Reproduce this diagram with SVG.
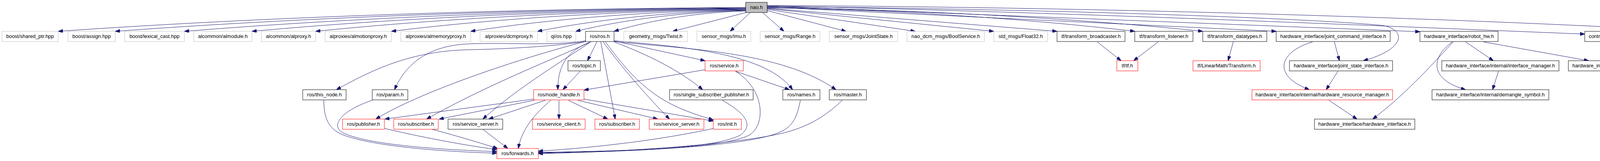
<svg xmlns="http://www.w3.org/2000/svg" width="4831" height="411" viewBox="0 0 4831 411">
<style>
rect{fill:#fff;stroke-width:1}
.g rect{stroke:#bfbfbf}
.b rect{stroke:#000}
.r rect{stroke:#ff0000}
.root rect{fill:#bfbfbf;stroke:#000}
text{font-family:"Liberation Sans",Arial,sans-serif;font-size:13px;text-anchor:middle;fill:#000}
#edges path{fill:none;stroke:#191970;stroke-width:1;marker-end:url(#a)}
</style>
<defs>
<marker id="a" viewBox="0 0 10 7" refX="10" refY="3.5" markerWidth="12" markerHeight="8.4" markerUnits="userSpaceOnUse" orient="auto">
<path d="M0,0 L10,3.5 L0,7 z" fill="#191970" stroke="#191970"/>
</marker>
</defs>
<rect x="0" y="0" width="4831" height="411" style="fill:#fff;stroke:none"/>
<g id="edges">
<path d="M1909,19 C1328,22 677,43 149,80"/>
<path d="M1909,20 C1376,23 779,44 295,80"/>
<path d="M1909,21 C1435,24 903,45 472,80"/>
<path d="M1909,22 C1492,25 1024,45 645,80"/>
<path d="M1909,23 C1546,26 1138,46 808,80"/>
<path d="M1909,24 C1610,27 1274,46 1002,80"/>
<path d="M1909,25 C1677,28 1416,47 1205,80"/>
<path d="M1909,26 C1733,29 1536,48 1376,80"/>
<path d="M1909,27 C1765,30 1604,48 1474,80"/>
<path d="M1909,28 C1798,31 1673,49 1572,80"/>
<path d="M1914,31 L1722,80"/>
<path d="M1922,31 L1869,80"/>
<path d="M1951,31 L2007,80"/>
<path d="M1964,27 L2166,80"/>
<path d="M1964,24 L2343,80"/>
<path d="M1964,22 L2544,80"/>
<path d="M1964,21 L2706,80"/>
<path d="M1964,20 C2300,25 2650,50 2905,80"/>
<path d="M1964,19 C2350,24 2800,50 3079,80"/>
<path d="M1964,18 L3267,80"/>
<path d="M1964,17 C2500,20 3300,42 3540,65 C3600,76 3600,125 3490,155"/>
<path d="M1964,16 L3635,81"/>
<path d="M1964,15 C2700,30 3500,65 4057,87"/>
<path d="M1964,14 C2800,18 3700,45 4339,80"/>
<path d="M1528,107 L1504,155"/>
<path d="M1512,107 C1450,130 1428,170 1428,229"/>
<path d="M1499,106 C1420,118 1300,125 1200,127 C1050,130 950,180 861,229"/>
<path d="M1499,104 C1420,118 1300,108 1200,112 C1100,116 1040,160 1010,229"/>
<path d="M1499,106 C1400,130 1100,220 962,304"/>
<path d="M1512,107 C1420,150 1250,215 1092,304"/>
<path d="M1512,107 C1450,150 1330,220 1236,304"/>
<path d="M1538,107 L1575,304"/>
<path d="M1544,107 C1590,170 1660,250 1714,304"/>
<path d="M1550,107 C1640,230 1700,270 1826,306"/>
<path d="M1572,107 C1660,140 1740,180 1799,229"/>
<path d="M1574,105 L1805,155"/>
<path d="M1572,104 C1750,120 1960,135 2029,229"/>
<path d="M1572,106 C1750,125 2000,130 2140,229"/>
<path d="M1366,253 L985,304"/>
<path d="M1368,256 L1124,304"/>
<path d="M1396,256 L1251,304"/>
<path d="M1431,256 L1431,304"/>
<path d="M1455,256 L1556,304"/>
<path d="M1479,256 L1684,304"/>
<path d="M1495,253 L1826,309"/>
<path d="M1410,256 C1370,290 1335,330 1327,379"/>
<path d="M1485,182 L1441,229"/>
<path d="M1805,178 L1495,230"/>
<path d="M1883,182 L2021,229"/>
<path d="M1883,182 C1960,230 1960,320 1918,345 C1850,380 1600,385 1378,389"/>
<path d="M1849,256 C1910,290 1930,320 1895,345 C1830,380 1600,386 1378,390"/>
<path d="M2049,256 C2040,300 2030,325 1990,340 C1900,375 1600,388 1378,391"/>
<path d="M2156,256 C2110,300 2060,330 1980,345 C1850,370 1600,388 1378,392"/>
<path d="M1826,328 C1700,355 1550,375 1378,386"/>
<path d="M829,256 C829,300 840,330 880,345 C960,375 1150,388 1272,391"/>
<path d="M953,256 C880,280 840,320 880,340 C950,372 1150,383 1272,387"/>
<path d="M985,328 C1100,355 1200,372 1272,382"/>
<path d="M1106,330 C1180,350 1230,365 1274,379"/>
<path d="M1236,330 L1300,379"/>
<path d="M2809,107 L2870,155"/>
<path d="M2965,107 L2902,155"/>
<path d="M3157,107 L3144,155"/>
<path d="M3416,107 L3429,155"/>
<path d="M3360,107 C3280,130 3250,190 3352,229"/>
<path d="M3425,182 L3395,229"/>
<path d="M3402,256 L3474,304"/>
<path d="M3720,107 C3680,150 3600,240 3514,304"/>
<path d="M3752,107 L3823,155"/>
<path d="M3798,107 L4067,155"/>
<path d="M3718,107 C3670,140 3650,200 3752,229"/>
<path d="M3836,182 L3821,229"/>
<path d="M4219,107 L4353,155"/>
<path d="M4264,107 L4597,155"/>
</g>
<g id="nao_h" class="root"><rect x="1909" y="6" width="55" height="26"/><text x="1936.5" y="23">nao.h</text></g>
<g id="boost_shared_ptr" class="g"><rect x="5" y="80" width="144" height="26"/><text x="77" y="97">boost/shared_ptr.hpp</text></g>
<g id="boost_assign" class="g"><rect x="174" y="80" width="121" height="26"/><text x="234.5" y="97">boost/assign.hpp</text></g>
<g id="boost_lexical_cast" class="g"><rect x="319" y="80" width="153" height="26"/><text x="395.5" y="97">boost/lexical_cast.hpp</text></g>
<g id="alcommon_almodule" class="g"><rect x="496" y="80" width="149" height="26"/><text x="570.5" y="97">alcommon/almodule.h</text></g>
<g id="alcommon_alproxy" class="g"><rect x="669" y="80" width="139" height="26"/><text x="738.5" y="97">alcommon/alproxy.h</text></g>
<g id="alproxies_almotionproxy" class="g"><rect x="832" y="80" width="170" height="26"/><text x="917" y="97">alproxies/almotionproxy.h</text></g>
<g id="alproxies_almemoryproxy" class="g"><rect x="1026" y="80" width="179" height="26"/><text x="1115.5" y="97">alproxies/almemoryproxy.h</text></g>
<g id="alproxies_dcmproxy" class="g"><rect x="1229" y="80" width="147" height="26"/><text x="1302.5" y="97">alproxies/dcmproxy.h</text></g>
<g id="qi_os" class="g"><rect x="1400" y="80" width="74" height="26"/><text x="1437" y="97">qi/os.hpp</text></g>
<g id="ros_ros" class="b"><rect x="1499" y="80" width="73" height="26"/><text x="1535.5" y="97">ros/ros.h</text></g>
<g id="geometry_msgs_twist" class="g"><rect x="1597" y="80" width="163" height="26"/><text x="1678.5" y="97">geometry_msgs/Twist.h</text></g>
<g id="sensor_msgs_imu" class="g"><rect x="1784" y="80" width="138" height="26"/><text x="1853" y="97">sensor_msgs/Imu.h</text></g>
<g id="sensor_msgs_range" class="g"><rect x="1946" y="80" width="153" height="26"/><text x="2022.5" y="97">sensor_msgs/Range.h</text></g>
<g id="sensor_msgs_jointstate" class="g"><rect x="2123" y="80" width="175" height="26"/><text x="2210.5" y="97">sensor_msgs/JointState.h</text></g>
<g id="nao_dcm_msgs_boolservice" class="g"><rect x="2322" y="80" width="198" height="26"/><text x="2421" y="97">nao_dcm_msgs/BoolService.h</text></g>
<g id="std_msgs_float32" class="g"><rect x="2544" y="80" width="138" height="26"/><text x="2613" y="97">std_msgs/Float32.h</text></g>
<g id="tf_transform_broadcaster" class="b"><rect x="2706" y="80" width="174" height="26"/><text x="2793" y="97">tf/transform_broadcaster.h</text></g>
<g id="tf_transform_listener" class="b"><rect x="2905" y="80" width="149" height="26"/><text x="2979.5" y="97">tf/transform_listener.h</text></g>
<g id="tf_transform_datatypes" class="b"><rect x="3079" y="80" width="164" height="26"/><text x="3161" y="97">tf/transform_datatypes.h</text></g>
<g id="hw_joint_command_interface" class="b"><rect x="3267" y="80" width="292" height="26"/><text x="3413" y="97">hardware_interface/joint_command_interface.h</text></g>
<g id="hw_robot_hw" class="b"><rect x="3635" y="80" width="200" height="26"/><text x="3735" y="97">hardware_interface/robot_hw.h</text></g>
<g id="cm_controller_manager" class="b"><rect x="4057" y="80" width="258" height="26"/><text x="4186" y="97">controller_manager/controller_manager.h</text></g>
<g id="diagnostic_updater" class="g"><rect x="4339" y="80" width="255" height="26"/><text x="4466.5" y="97">diagnostic_updater/diagnostic_updater.h</text></g>
<g id="ros_topic" class="b"><rect x="1454" y="155" width="83" height="26"/><text x="1495.5" y="172">ros/topic.h</text></g>
<g id="ros_service" class="r"><rect x="1805" y="155" width="98" height="26"/><text x="1854" y="172">ros/service.h</text></g>
<g id="tf_tf" class="r"><rect x="2859" y="155" width="54" height="26"/><text x="2886" y="172">tf/tf.h</text></g>
<g id="tf_linearmath_transform" class="r"><rect x="3054" y="155" width="172" height="26"/><text x="3140" y="172">tf/LinearMath/Transform.h</text></g>
<g id="hw_joint_state_interface" class="b"><rect x="3301" y="155" width="264" height="26"/><text x="3433" y="172">hardware_interface/joint_state_interface.h</text></g>
<g id="hw_interface_manager" class="b"><rect x="3691" y="155" width="300" height="26"/><text x="3841" y="172">hardware_interface/internal/interface_manager.h</text></g>
<g id="hw_controller_info" class="b"><rect x="4015" y="155" width="228" height="26"/><text x="4129" y="172">hardware_interface/controller_info.h</text></g>
<g id="cm_controller_spec" class="b"><rect x="4268" y="155" width="234" height="26"/><text x="4385" y="172">controller_manager/controller_spec.h</text></g>
<g id="cm_controller_loader_interface" class="b"><rect x="4526" y="155" width="299" height="26"/><text x="4675.5" y="172">controller_manager/controller_loader_interface.h</text></g>
<g id="ros_this_node" class="b"><rect x="775" y="229" width="111" height="26"/><text x="830.5" y="246">ros/this_node.h</text></g>
<g id="ros_param" class="b"><rect x="953" y="229" width="91" height="26"/><text x="998.5" y="246">ros/param.h</text></g>
<g id="ros_node_handle" class="r"><rect x="1366" y="229" width="129" height="26"/><text x="1430.5" y="246">ros/node_handle.h</text></g>
<g id="ros_single_subscriber_publisher" class="b"><rect x="1714" y="229" width="214" height="26"/><text x="1821" y="246">ros/single_subscriber_publisher.h</text></g>
<g id="ros_names" class="b"><rect x="2004" y="229" width="95" height="26"/><text x="2051.5" y="246">ros/names.h</text></g>
<g id="ros_master" class="b"><rect x="2123" y="229" width="95" height="26"/><text x="2170.5" y="246">ros/master.h</text></g>
<g id="hw_hardware_resource_manager" class="r"><rect x="3205" y="229" width="360" height="26"/><text x="3385" y="246">hardware_interface/internal/hardware_resource_manager.h</text></g>
<g id="hw_demangle_symbol" class="b"><rect x="3666" y="229" width="299" height="26"/><text x="3815.5" y="246">hardware_interface/internal/demangle_symbol.h</text></g>
<g id="ros_publisher" class="r"><rect x="877" y="304" width="107" height="26"/><text x="930.5" y="321">ros/publisher.h</text></g>
<g id="ros_subscriber_a" class="r"><rect x="1008" y="304" width="114" height="26"/><text x="1065" y="321">ros/subscriber.h</text></g>
<g id="ros_service_server_a" class="b"><rect x="1147" y="304" width="140" height="26"/><text x="1217" y="321">ros/service_server.h</text></g>
<g id="ros_service_client" class="r"><rect x="1363" y="304" width="135" height="26"/><text x="1430.5" y="321">ros/service_client.h</text></g>
<g id="ros_subscriber_b" class="r"><rect x="1523" y="304" width="114" height="26"/><text x="1580" y="321">ros/subscriber.h</text></g>
<g id="ros_service_server_b" class="r"><rect x="1662" y="304" width="140" height="26"/><text x="1732" y="321">ros/service_server.h</text></g>
<g id="ros_init" class="r"><rect x="1826" y="304" width="72" height="26"/><text x="1862" y="321">ros/init.h</text></g>
<g id="hw_hardware_interface" class="b"><rect x="3365" y="304" width="257" height="26"/><text x="3493.5" y="321">hardware_interface/hardware_interface.h</text></g>
<g id="ros_forwards" class="r"><rect x="1272" y="379" width="106" height="26"/><text x="1325" y="396">ros/forwards.h</text></g>
</svg>
